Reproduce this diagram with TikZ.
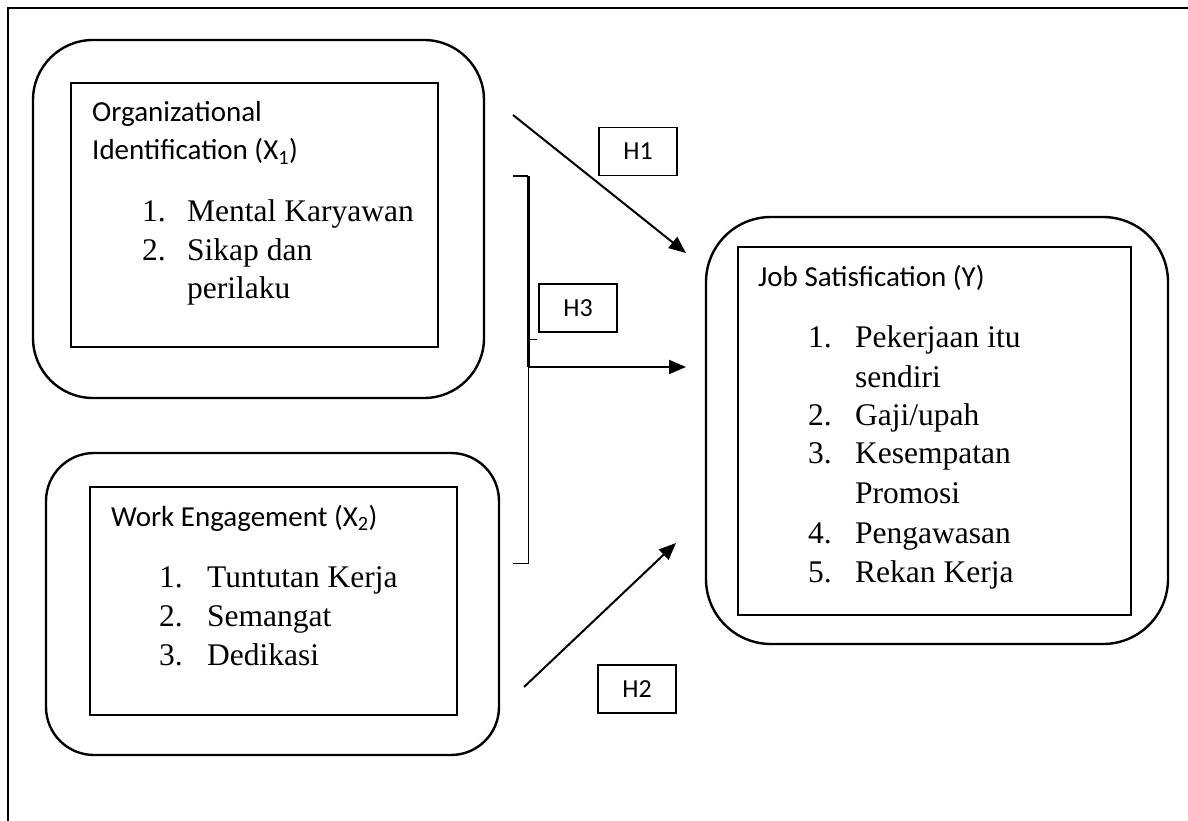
\documentclass[tikz,border=0pt]{standalone}
\usepackage{fontspec}
\setmainfont{Liberation Serif}
\newfontfamily\hdfont{Carlito}
\usetikzlibrary{arrows.meta}
\begin{document}
\begin{tikzpicture}[x=1pt,y=-1pt,
  outerbox/.style={draw,line width=2.4pt},
  innerbox/.style={draw,line width=1.8pt},
  hbox/.style={draw,line width=1.4pt,minimum width=78pt,minimum height=48pt,inner sep=0pt,font=\hdfont\fontsize{26}{30}\selectfont},
  hd/.style={anchor=base west,inner sep=0pt,font=\hdfont\fontsize{29}{36}\selectfont},
  it/.style={anchor=base west,inner sep=0pt,font=\fontsize{31.5}{38}\selectfont},
  arr/.style={line width=2pt,-{Triangle[length=17pt,width=14pt]}},
]
\useasboundingbox (0,0) rectangle (1188,821);
\draw[line width=2.4pt] (8,840) -- (8,8) -- (1200,8);

% Box 1: Organizational Identification
\draw[outerbox,rounded corners=60pt] (33,40) rectangle (484,398);
\draw[innerbox] (71,83) rectangle (438,347);
\node[hd] (h1a) at (92,122) {Organizational};
\node[hd] (h1b) at (92,160) {Identification (X\textsubscript{1})};
\node[it] (n11) at (142,222) {1.};
\node[it] (t11) at (187,222) {Mental Karyawan};
\node[it] (n12) at (142,260) {2.};
\node[it] (t12) at (187,260) {Sikap dan};
\node[it] (t12b) at (187,298) {perilaku};

% Box 2: Work Engagement
\draw[outerbox,rounded corners=48pt] (46,453) rectangle (499,755);
\draw[innerbox] (90,487) rectangle (457,715);
\node[hd] (h2) at (111,526) {Work Engagement (X\textsubscript{2})};
\node[it] (n21) at (159,587) {1.};
\node[it] (t21) at (207,587) {Tuntutan Kerja};
\node[it] (n22) at (159,626) {2.};
\node[it] (t22) at (207,626) {Semangat};
\node[it] (n23) at (159,665) {3.};
\node[it] (t23) at (207,665) {Dedikasi};

% Box 3: Job Satisfication
\draw[outerbox,rounded corners=65pt] (706,217) rectangle (1168,644);
\draw[innerbox] (738,247) rectangle (1131,615);
\node[hd] (h3) at (758,286) {Job Satisfication (Y)};
\node[it] (n31) at (808,347) {1.};
\node[it] (t31) at (855,347) {Pekerjaan itu};
\node[it] (t31b) at (855,387) {sendiri};
\node[it] (n32) at (808,425) {2.};
\node[it] (t32) at (855,425) {Gaji/upah};
\node[it] (n33) at (808,463) {3.};
\node[it] (t33) at (855,463) {Kesempatan};
\node[it] (t33b) at (855,503) {Promosi};
\node[it] (n34) at (808,543) {4.};
\node[it] (t34) at (855,543) {Pengawasan};
\node[it] (n35) at (808,582) {5.};
\node[it] (t35) at (855,582) {Rekan Kerja};

% Hypothesis labels
\node[hbox] (H1) at (638,151.5) {H1};
\node[hbox] (H3) at (578,308) {H3};
\node[hbox] (H2) at (637,689) {H2};

% Arrows
\coordinate (a1s) at (513,115);
\coordinate (a1e) at (686,253);
\draw[arr] (a1s) -- (a1e);

\coordinate (a2s) at (524,687);
\coordinate (a2e) at (676,543);
\draw[arr] (a2s) -- (a2e);

% H3 bracket
\coordinate (bt) at (513,176);
\coordinate (bv) at (528,176);
\coordinate (bm) at (528,367);
\coordinate (bb) at (528,563);
\coordinate (bbl) at (513,563);
\coordinate (tk) at (537,339);
\coordinate (a3e) at (686,367);
\draw[line width=2pt] (bt) -- (bv);
\draw[line width=3pt] (bv) -- (bm);
\draw[line width=1pt] (bm) -- (bb) -- (bbl);
\draw[line width=1pt] (528,339) -- (tk);
\draw[arr] (bm) -- (a3e);
\end{tikzpicture}
\end{document}
